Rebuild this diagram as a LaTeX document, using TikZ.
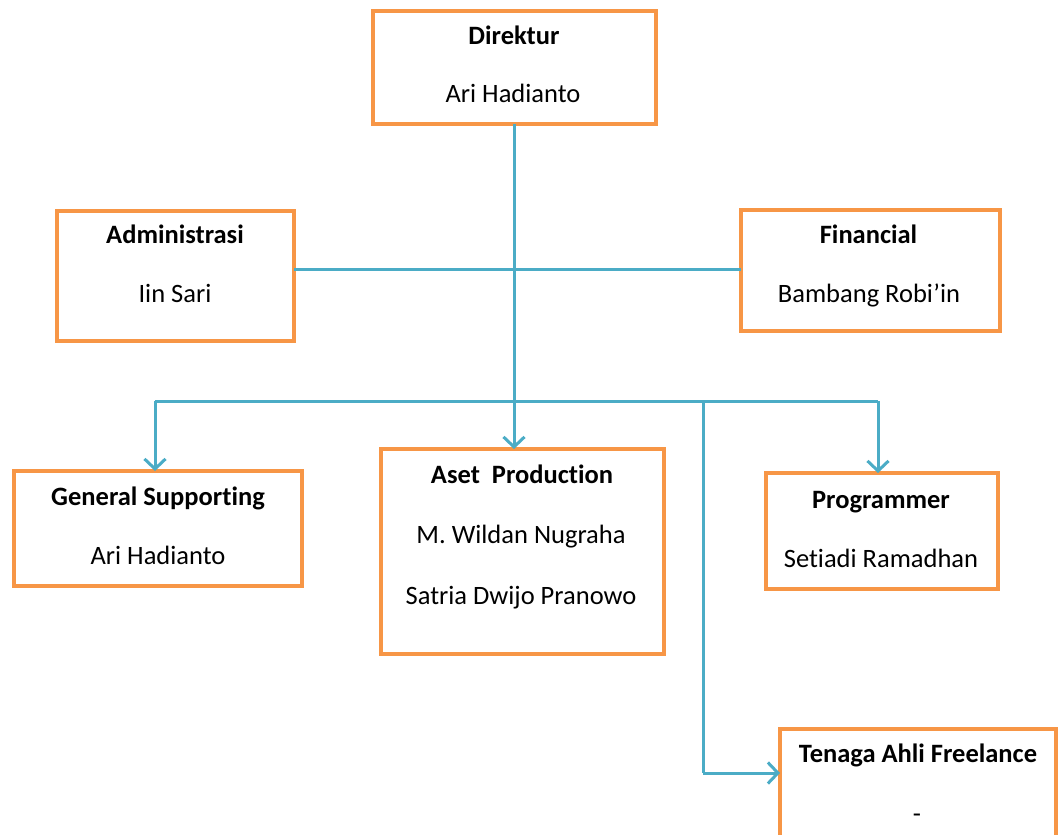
\documentclass[tikz,border=0pt]{standalone}
\usepackage{fontspec}
\setmainfont[Ligatures=NoCommon]{Carlito}
\usetikzlibrary{arrows.meta}
\definecolor{boxorange}{HTML}{F79646}
\definecolor{linkblue}{HTML}{4BACC6}
\begin{document}
\begin{tikzpicture}[x=1pt,y=-1pt,
  orgbox/.style={draw=boxorange, line width=4pt, fill=white, rectangle, inner sep=0pt, outer sep=0pt},
  head/.style={anchor=base, font=\fontsize{26.5}{30}\selectfont\bfseries, inner sep=0pt},
  person/.style={anchor=base, font=\fontsize{26.5}{30}\selectfont, inner sep=0pt},
  link/.style={draw=linkblue, line width=3pt},
  linkarrow/.style={link, -{Straight Barb[length=10pt,width=21pt,line width=3pt]}}
]
\useasboundingbox (0,0) rectangle (1058,835);
\clip (0,0) rectangle (1058,835);

% boxes
\node[orgbox, minimum width=283pt, minimum height=113pt] (dir) at (514.5,67.5) {};
\node[orgbox, minimum width=237pt, minimum height=130pt] (adm) at (175.5,276) {};
\node[orgbox, minimum width=259pt, minimum height=121pt] (fin) at (870.5,270.5) {};
\node[orgbox, minimum width=288pt, minimum height=115pt] (gen) at (158,528.5) {};
\node[orgbox, minimum width=283pt, minimum height=205pt] (aset) at (522.5,551.5) {};
\node[orgbox, minimum width=232pt, minimum height=116pt] (prog) at (882,531) {};
\node[orgbox, minimum width=276pt, minimum height=120pt] (tena) at (918,789) {};

% helper coordinates
\coordinate (h1) at (514,269);
\coordinate (bl) at (155,401);
\coordinate (br) at (878,401);
\coordinate (bt) at (703,401);
\coordinate (bc) at (703,773);

% connectors
\draw[link] (h1 -| adm.east) -- (h1 -| fin.west);
\draw[linkarrow] (dir.south -| h1) -- (h1 |- aset.north);
\draw[link] (bl) -- (br);
\draw[linkarrow] (bl) -- (bl |- gen.north);
\draw[linkarrow] (br) -- (br |- prog.north);
\draw[link] (bt) -- (bc);
\draw[linkarrow] (bc) -- (bc -| tena.west);

% texts
\node[head] (t1) at (514,44) {Direktur};
\node[person] (p1) at (513,102) {Ari Hadianto};
\node[head] (t2) at (175,243) {Administrasi};
\node[person] (p2) at (175,302) {Iin Sari};
\node[head] (t3) at (868.5,243) {Financial};
\node[person] (p3) at (869,302) {Bambang Robi’in};
\node[head] (t4) at (158,505) {General Supporting};
\node[person] (p4) at (158,564) {Ari Hadianto};
\node[head] (t5) at (522,483) {Aset\ \ Production};
\node[person] (p5a) at (521,543) {M. Wildan Nugraha};
\node[person] (p5b) at (521,604) {Satria Dwijo Pranowo};
\node[head] (t6) at (881,508) {Programmer};
\node[person] (p6) at (881,567) {Setiadi Ramadhan};
\node[head] (t7) at (918,762) {Tenaga Ahli Freelance};
\node[person] (p7) at (917,822) {-};
\end{tikzpicture}
\end{document}
